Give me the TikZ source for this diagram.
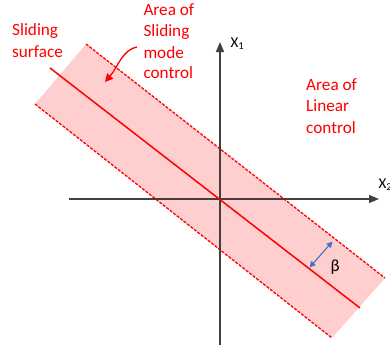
\documentclass[tikz,border=0pt]{standalone}
\usepackage{fontspec}
\setmainfont{Carlito}
\usetikzlibrary{arrows.meta}
\definecolor{axisgray}{RGB}{64,64,64}
\definecolor{bandred}{RGB}{255,0,0}
\definecolor{bandfill}{RGB}{255,206,206}
\definecolor{betablue}{RGB}{68,114,196}
\tikzset{
  axisline/.style={axisgray, line width=1.6pt, -{Triangle[length=10pt,width=8pt]}},
  edgeline/.style={bandred, line width=1.3pt, dash pattern=on 3pt off 1.4pt},
  midline/.style={bandred, line width=1.5pt},
  redtext/.style={text=bandred, font=\fontsize{17.2}{21}\selectfont, inner sep=0pt, anchor=base west},
  blacktext/.style={text=black, font=\fontsize{15}{18}\selectfont, inner sep=0pt, anchor=base west},
}
\begin{document}
\begin{tikzpicture}[x=1pt,y=-1pt]
\useasboundingbox (0,0) rectangle (390,348);
\clip (0,0) rectangle (390,348);
% band
\coordinate (ul) at (86,44);
\coordinate (ur) at (385,278);
\coordinate (lr) at (332,338);
\coordinate (ll) at (35,104);
\fill[bandfill] (ul) -- (ur) -- (lr) -- (ll) -- cycle;
\draw[edgeline] (ul) -- (ur);
\draw[edgeline] (ll) -- (lr);
\coordinate (ms) at (50,68);
\coordinate (me) at (360,308);
% axes
\coordinate (O) at (220,199);
\coordinate (xl) at (69,199);
\coordinate (xr) at (379,199);
\coordinate (yb) at (220,345);
\coordinate (yt) at (220,42);
\draw[axisline] (xl) -- (xr);
\draw[axisline] (yb) -- (yt);
\draw[midline] (ms) -- (me);
% labels
\node[blacktext] (x1) at (230.5,47.5) {X\textsubscript{1}};
\node[blacktext] (x2) at (378.5,188.5) {X\textsubscript{2}};
\node[blacktext, font=\fontsize{17}{20}\selectfont] (beta) at (330.5,271) {β};
\node[redtext] (s1) at (12,35.7) {Sliding};
\node[redtext] (s2) at (12,57) {surface};
\node[redtext] (a1) at (143.3,15.3) {Area of};
\node[redtext] (a2) at (143.3,36.7) {Sliding};
\node[redtext] (a3) at (143.3,58) {mode};
\node[redtext] (a4) at (143.3,78.7) {control};
\node[redtext] (l1) at (306,90) {Area of};
\node[redtext] (l2) at (306,111.5) {Linear};
\node[redtext] (l3) at (306,133) {control};
% curved arrow
\coordinate (cs) at (137,47);
\coordinate (ce) at (105,82);
\draw[bandred, line width=1.3pt, -{Triangle[length=8pt,width=8pt]}] (cs) .. controls (122,50) and (118,67) .. (ce);
% beta arrow
\coordinate (b1) at (309.5,267.5);
\coordinate (b2) at (332.5,241.5);
\draw[betablue, line width=1.1pt, {Triangle[length=6pt,width=6pt]}-{Triangle[length=6pt,width=6pt]}] (b1) -- (b2);
\end{tikzpicture}
\end{document}
